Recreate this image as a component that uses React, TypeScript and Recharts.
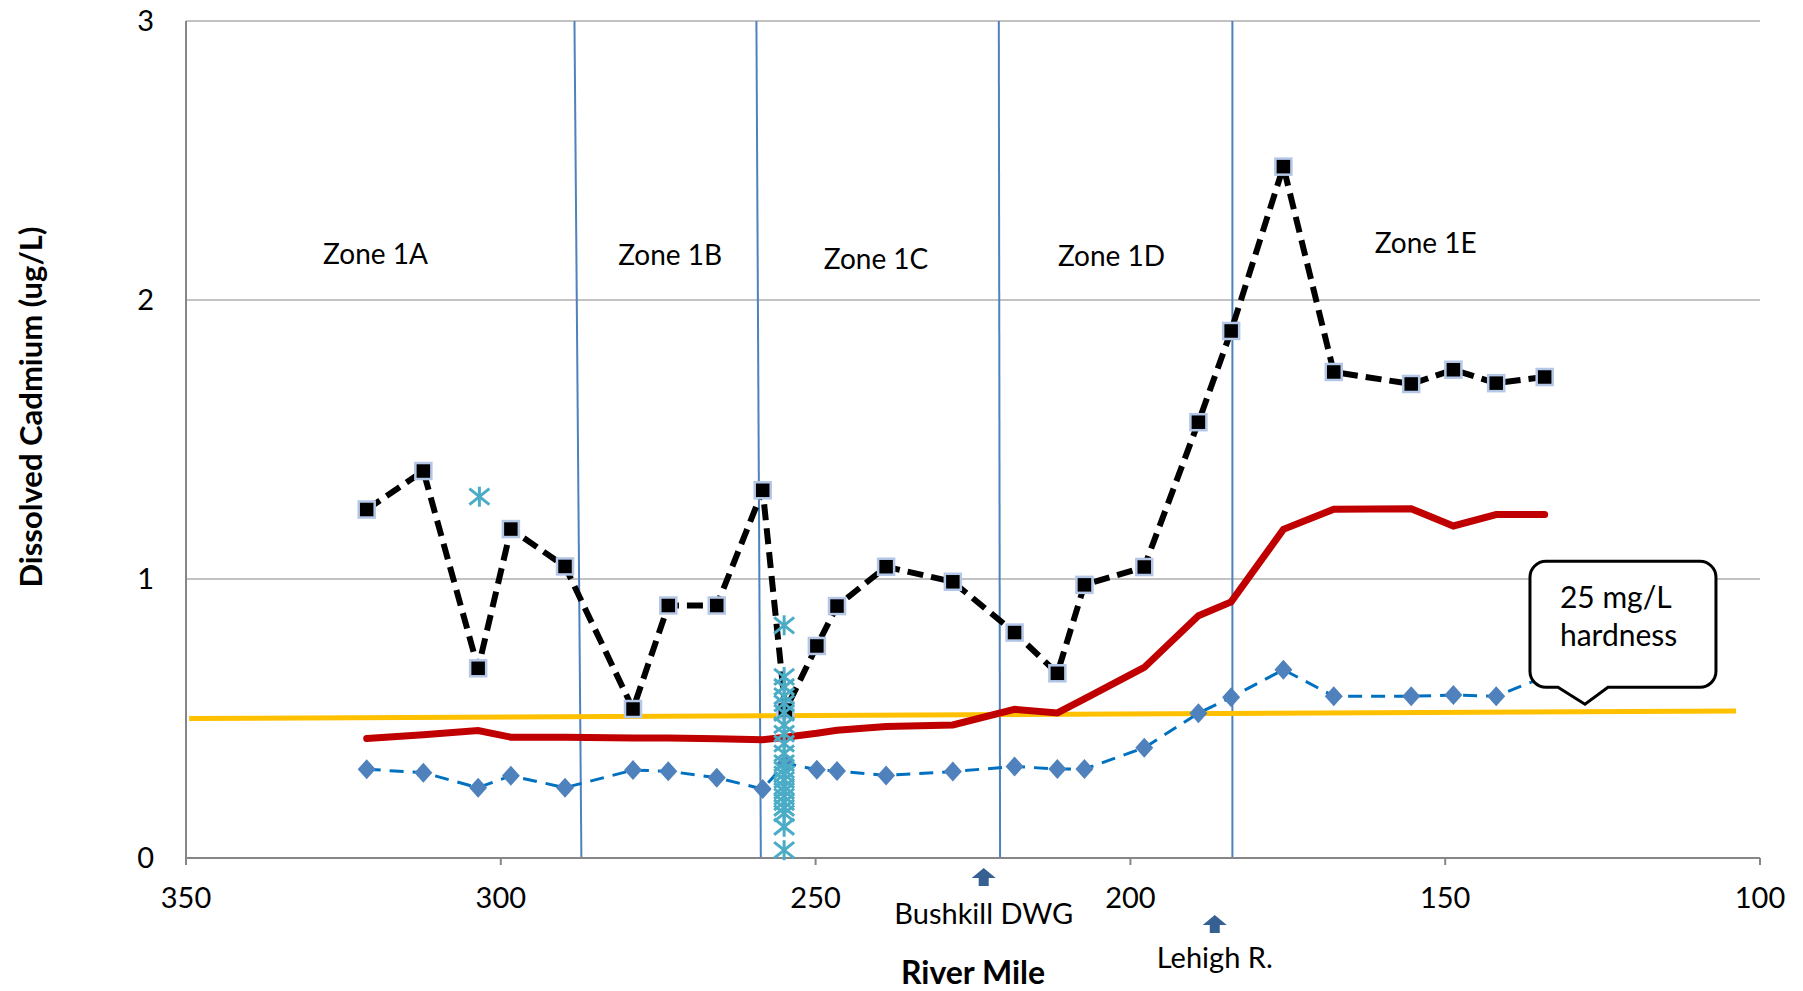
import { ComposedChart, Line, Scatter, XAxis, YAxis, CartesianGrid, ReferenceLine, ReferenceDot, Label } from 'recharts';

// river mile of each sampling station (shared by the three station series)
const riverMile = [321.3, 312.3, 303.6, 298.4, 289.8, 279.0, 273.4, 265.7, 258.4, 254.8, 249.8, 246.6, 238.8, 228.2, 218.4, 211.6, 207.3, 197.8, 189.2, 184.0, 175.7, 167.7, 155.4, 148.7, 141.9, 134.2];
// black dashed squares
const cdMeasured = [1.249, 1.387, 0.68, 1.179, 1.045, 0.534, 0.905, 0.905, 1.318, 0.53, 0.76, 0.903, 1.044, 0.99, 0.808, 0.662, 0.979, 1.043, 1.562, 1.889, 2.478, 1.742, 1.699, 1.75, 1.702, 1.724];
// red solid line
const cdCriterion = [0.428, 0.442, 0.457, 0.433, 0.433, 0.43, 0.43, 0.427, 0.424, 0.433, 0.447, 0.458, 0.471, 0.477, 0.533, 0.52, 0.57, 0.683, 0.868, 0.918, 1.178, 1.25, 1.252, 1.19, 1.231, 1.231];
// blue dashed diamonds
const cdLow = [0.318, 0.306, 0.252, 0.295, 0.252, 0.315, 0.311, 0.288, 0.247, 0.34, 0.316, 0.312, 0.296, 0.31, 0.328, 0.319, 0.319, 0.395, 0.519, 0.576, 0.675, 0.58, 0.58, 0.584, 0.58, 0.65];

// yellow line, 25 mg/L hardness
const hardnessMile = [349.5, 103.8];
const hardnessCd = [0.5, 0.527];

// cyan asterisks (extra samples)
const extraMile = [303.4, 255.0, 255.0, 255.0, 255.0, 255.0, 255.0, 255.0, 255.0, 255.0, 255.0, 255.0, 255.0, 255.0, 255.0, 255.0, 255.0, 255.0, 255.0, 255.0, 255.0, 255.0, 255.0];
const extraCd = [1.295, 0.834, 0.649, 0.613, 0.58, 0.554, 0.52, 0.476, 0.446, 0.41, 0.375, 0.34, 0.316, 0.3, 0.28, 0.256, 0.24, 0.22, 0.2, 0.18, 0.16, 0.112, 0.028];

// zone boundaries (top mile, bottom mile)
const zoneTop = [288.3, 259.4, 220.9, 183.8];
const zoneBottom = [287.2, 258.7, 220.7, 183.8];
const zoneNames = ['Zone 1A', 'Zone 1B', 'Zone 1C', 'Zone 1D', 'Zone 1E'];
const zoneNameMile = [319.9, 273.1, 240.4, 203.0, 153.1];
const zoneNameCd = [2.168, 2.164, 2.151, 2.16, 2.209];

const xTicks = [100, 150, 200, 250, 300, 350];
const yTicks = [0, 1, 2, 3];

const FONT = 'Lato, "Open Sans", sans-serif';

const toRows = (xs: number[], ys: number[]) => xs.map((m, i) => ({ mile: m, cd: ys[i] }));

const measuredData = toRows(riverMile, cdMeasured);
const criterionData = toRows(riverMile, cdCriterion);
const lowData = toRows(riverMile, cdLow);
const hardnessData = toRows(hardnessMile, hardnessCd);
const extraData = toRows(extraMile, extraCd);

const SquareDot = (p: any) => (
  <rect key={`sq-${p.index}`} x={p.cx - 8} y={p.cy - 8} width={16} height={16} fill="#000" stroke="#B4C7E7" strokeWidth={2.5} />
);

const DiamondDot = (p: any) => (
  <path
    key={`dm-${p.index}`}
    d={`M${p.cx},${p.cy - 10} L${p.cx + 9},${p.cy} L${p.cx},${p.cy + 10} L${p.cx - 9},${p.cy} Z`}
    fill="#4F81BD"
  />
);

const Asterisk = (p: any) => {
  const { cx, cy } = p;
  return (
    <g stroke="#4BACC6" strokeWidth={3}>
      <line x1={cx} y1={cy - 10} x2={cx} y2={cy + 10} />
      <line x1={cx - 10} y1={cy - 8} x2={cx + 10} y2={cy + 8} />
      <line x1={cx - 10} y1={cy + 8} x2={cx + 10} y2={cy - 8} />
    </g>
  );
};

const textShape = (txt: string, size = 28) => (p: any) => (
  <text x={p.cx} y={p.cy} textAnchor="middle" dominantBaseline="central" fontSize={size} fontFamily={FONT} fill="#000">
    {txt}
  </text>
);

// arrow + name under the axis
const marker = (txt: string, arrowTop: number, textBase: number) => (p: any) => {
  const { cx, cy } = p;
  const t = cy + arrowTop;
  return (
    <g>
      <path
        d={`M${cx},${t} L${cx + 12},${t + 10} L${cx + 5},${t + 10} L${cx + 5},${t + 18} L${cx - 5},${t + 18} L${cx - 5},${t + 10} L${cx - 12},${t + 10} Z`}
        fill="#376092"
      />
      <text x={cx} y={cy + textBase} textAnchor="middle" fontSize={29} fontFamily={FONT} fill="#000">
        {txt}
      </text>
    </g>
  );
};

const Callout = (p: any) => {
  const { cx, cy } = p;
  const L = cx - 55, R = cx + 131, T = cy - 143, B = cy - 17, r = 16;
  const d = `M${L + r},${T} H${R - r} A${r},${r} 0 0 1 ${R},${T + r} V${B - r} A${r},${r} 0 0 1 ${R - r},${B} H${cx + 23} L${cx},${cy} L${cx - 27},${B} H${L + r} A${r},${r} 0 0 1 ${L},${B - r} V${T + r} A${r},${r} 0 0 1 ${L + r},${T} Z`;
  return (
    <g>
      <path d={d} fill="#fff" stroke="#000" strokeWidth={3} />
      <text x={cx - 25} y={cy - 96} fontSize={30} fontFamily={FONT} fill="#000">25 mg/L</text>
      <text x={cx - 25} y={cy - 58} fontSize={30} fontFamily={FONT} fill="#000">hardness</text>
    </g>
  );
};

export default function App() {
  return (
    <div style={{ position: 'absolute', left: 0, top: 0, background: '#fff' }}>
      <ComposedChart width={1803} height={991} margin={{ top: 21, right: 43, bottom: 0, left: 0 }}>
        <CartesianGrid horizontal vertical={false} stroke="#868686" strokeWidth={1} />
        <XAxis
          type="number"
          dataKey="mile"
          domain={[100, 350]}
          reversed
          ticks={xTicks}
          allowDataOverflow
          height={133}
          axisLine={{ stroke: '#868686', strokeWidth: 2 }}
          tickLine={{ stroke: '#868686', strokeWidth: 2 }}
          tickSize={7}
          tickMargin={22}
          tick={{ fontSize: 29, fill: '#000', fontFamily: FONT }}
        >
          <Label value="River Mile" position="insideBottom" offset={7} style={{ fontSize: 32, fontWeight: 700, fontFamily: FONT, fill: '#000' }} />
        </XAxis>
        <YAxis
          type="number"
          dataKey="cd"
          domain={[0, 3]}
          ticks={yTicks}
          width={186}
          axisLine={{ stroke: '#868686', strokeWidth: 2 }}
          tickLine={false}
          tickSize={0}
          tickMargin={32}
          tick={{ fontSize: 29, fill: '#000', fontFamily: FONT }}
        >
          <Label
            content={() => (
              <text x={30} y={407} transform="rotate(-90 30 407)" textAnchor="middle" dominantBaseline="central" fontSize={31} fontWeight={700} fontFamily={FONT} fill="#000">
                Dissolved Cadmium (ug/L)
              </text>
            )}
          />
        </YAxis>

        {zoneTop.map((m, i) => (
          <ReferenceLine
            key={`z${i}`}
            segment={[{ x: m, y: 3 }, { x: zoneBottom[i], y: 0 }]}
            stroke="#4F81BD"
            strokeWidth={2}
          />
        ))}

        {zoneNames.map((n, i) => (
          <ReferenceDot key={n} x={zoneNameMile[i]} y={zoneNameCd[i]} r={1} ifOverflow="visible" shape={textShape(n)} />
        ))}

        <Line data={hardnessData} dataKey="cd" type="linear" stroke="#FFC000" strokeWidth={5} dot={false} isAnimationActive={false} />
        <Line data={lowData} dataKey="cd" type="linear" stroke="#0070C0" strokeWidth={3} strokeDasharray="14 9" dot={DiamondDot} isAnimationActive={false} />
        <Line data={criterionData} dataKey="cd" type="linear" stroke="#C00000" strokeWidth={7} strokeLinecap="round" dot={false} isAnimationActive={false} />
        <Line data={measuredData} dataKey="cd" type="linear" stroke="#000" strokeWidth={6} strokeDasharray="16 8" dot={SquareDot} isAnimationActive={false} />
        <Scatter data={extraData} dataKey="cd" shape={Asterisk} isAnimationActive={false} />

        <ReferenceDot x={127.8} y={0.551} r={1} ifOverflow="visible" shape={Callout} />
        <ReferenceDot x={223.3} y={0} r={1} ifOverflow="visible" shape={marker('Bushkill DWG', 10, 66)} />
        <ReferenceDot x={186.6} y={0} r={1} ifOverflow="visible" shape={marker('Lehigh R.', 57, 110)} />
      </ComposedChart>
    </div>
  );
}
